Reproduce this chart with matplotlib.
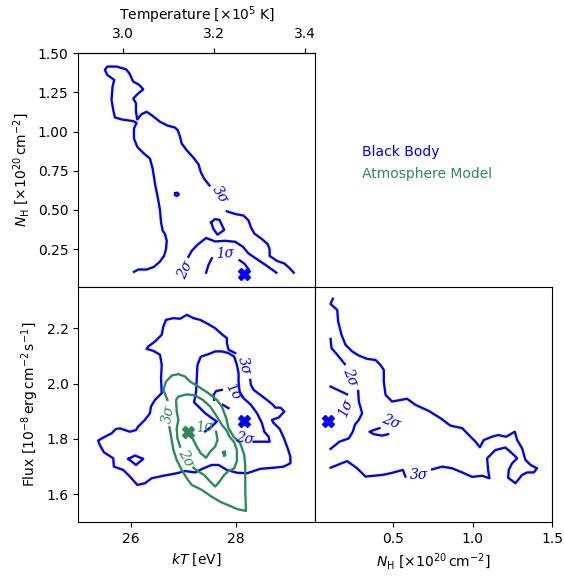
import numpy as np
import matplotlib.pyplot as plt

BLUE = '#0000ff'
GREEN = '#2e8b57'

# ---- traced contour lines (data units) ----
# top-left: kT [eV] vs NH [1e20 cm^-2], black body
bb_kt_nh_3s_a = [(26.058, 0.105), (26.140, 0.120), (26.299, 0.120), (26.438, 0.137), (26.553, 0.171),
                 (26.629, 0.207), (26.667, 0.250), (26.680, 0.303), (26.648, 0.346), (26.604, 0.367),
                 (26.572, 0.421), (26.553, 0.496), (26.521, 0.560), (26.458, 0.667), (26.413, 0.763),
                 (26.362, 0.827), (26.235, 0.863), (26.121, 0.902), (26.058, 0.955), (26.058, 1.019),
                 (26.108, 1.055), (26.045, 1.066), (25.823, 1.077), (25.696, 1.090), (25.664, 1.137),
                 (25.632, 1.201), (25.651, 1.286), (25.683, 1.329), (25.550, 1.361), (25.505, 1.393),
                 (25.550, 1.414), (25.727, 1.414), (25.905, 1.397), (25.969, 1.372), (26.013, 1.340),
                 (26.045, 1.318), (26.159, 1.297), (26.235, 1.269), (26.140, 1.243), (26.045, 1.211),
                 (26.096, 1.179), (26.096, 1.126), (26.121, 1.077), (26.204, 1.111), (26.299, 1.126),
                 (26.394, 1.104), (26.553, 1.062), (26.693, 1.038), (26.839, 1.025), (26.889, 1.008),
                 (26.934, 0.966), (26.965, 0.923), (27.061, 0.880), (27.188, 0.833), (27.283, 0.791),
                 (27.327, 0.741), (27.391, 0.699), (27.492, 0.656)]
bb_kt_nh_3s_b = [(27.823, 0.491), (27.981, 0.474), (28.140, 0.464), (28.235, 0.432), (28.280, 0.389),
                 (28.343, 0.350), (28.489, 0.314), (28.597, 0.282), (28.635, 0.250), (28.635, 0.207),
                 (28.775, 0.175), (28.915, 0.158), (29.016, 0.128), (29.092, 0.100)]
bb_kt_nh_2s = [(27.092, 0.201), (27.156, 0.239), (27.264, 0.278), (27.429, 0.321), (27.600, 0.299),
               (27.791, 0.303), (27.981, 0.297), (28.127, 0.265), (28.235, 0.222), (28.394, 0.186),
               (28.584, 0.143), (28.762, 0.100)]
bb_kt_nh_island = [(27.524, 0.421), (27.600, 0.442), (27.683, 0.436), (27.772, 0.372), (27.645, 0.342),
                   (27.569, 0.378), (27.524, 0.421)]
bb_kt_nh_dot = [(26.84, 0.607), (26.885, 0.610), (26.91, 0.598), (26.87, 0.588), (26.835, 0.596), (26.84, 0.607)]
bb_kt_nh_1s_a = [(27.429, 0.100), (27.473, 0.149), (27.537, 0.192)]
bb_kt_nh_1s_b = [(28.064, 0.179), (28.153, 0.158), (28.235, 0.122)]

# bottom-left: kT [eV] vs Flux, black body
bb_kt_fl_3s = [(27.981, 2.110), (27.854, 2.122), (27.823, 2.146), (27.823, 2.164), (27.727, 2.178),
               (27.600, 2.200), (27.473, 2.214), (27.315, 2.230), (27.188, 2.236), (27.061, 2.248),
               (26.934, 2.234), (26.807, 2.236), (26.667, 2.230), (26.616, 2.206), (26.585, 2.176),
               (26.458, 2.152), (26.331, 2.134), (26.299, 2.125), (26.426, 2.118), (26.553, 2.104),
               (26.585, 2.067), (26.572, 2.019), (26.585, 1.965), (26.458, 1.941), (26.381, 1.917),
               (26.362, 1.893), (26.267, 1.869), (26.140, 1.845), (26.096, 1.832), (25.981, 1.826),
               (25.791, 1.838), (25.715, 1.836), (25.632, 1.820), (25.505, 1.808), (25.378, 1.794),
               (25.410, 1.778), (25.486, 1.752), (25.664, 1.730), (25.677, 1.700), (25.854, 1.688),
               (25.981, 1.664), (26.121, 1.634), (26.267, 1.640), (26.394, 1.658), (26.616, 1.667),
               (26.870, 1.676), (27.029, 1.684), (27.219, 1.679), (27.378, 1.694), (27.537, 1.706),
               (27.664, 1.706), (27.823, 1.688), (28.013, 1.678), (28.204, 1.676), (28.458, 1.692),
               (28.712, 1.696), (28.902, 1.700), (29.029, 1.712), (29.029, 1.736), (28.978, 1.766),
               (28.902, 1.805), (28.826, 1.836), (28.699, 1.860), (28.680, 1.869), (28.807, 1.877),
               (28.915, 1.899), (28.839, 1.913), (28.743, 1.913), (28.699, 1.923), (28.584, 1.941),
               (28.458, 1.959), (28.331, 1.977), (28.280, 1.995), (28.267, 2.013)]
bb_kt_fl_diamond = [(25.950, 1.728), (26.077, 1.740), (26.235, 1.728), (26.096, 1.706), (25.950, 1.728)]
bb_kt_fl_2s = [(28.331, 1.790), (28.508, 1.790), (28.635, 1.790), (28.616, 1.808), (28.534, 1.826),
               (28.489, 1.857), (28.394, 1.893), (28.280, 1.923), (28.140, 1.947), (28.064, 1.971),
               (28.045, 2.007), (28.045, 2.037), (28.013, 2.067), (27.962, 2.097), (27.854, 2.110),
               (27.727, 2.116), (27.600, 2.116), (27.473, 2.106), (27.327, 2.097), (27.264, 2.067),
               (27.251, 2.019), (27.238, 1.971), (27.200, 1.932), (27.283, 1.917), (27.410, 1.893),
               (27.537, 1.875), (27.632, 1.863), (27.537, 1.845), (27.410, 1.827)]
bb_kt_fl_1s_a = [(27.727, 1.977), (27.619, 1.973), (27.569, 1.959), (27.581, 1.941)]
bb_kt_fl_1s_b = [(27.746, 1.923), (27.854, 1.911)]

# bottom-left: kT [eV] vs Flux, atmosphere model
at_kt_fl_3s = [(26.693, 1.941), (26.616, 1.977), (26.667, 2.007), (26.775, 2.029), (26.902, 2.034),
               (27.029, 2.025), (27.124, 2.007), (27.283, 1.989), (27.473, 1.965), (27.632, 1.941),
               (27.727, 1.917), (27.810, 1.875), (27.854, 1.839), (27.950, 1.808), (28.077, 1.784),
               (28.153, 1.742), (28.172, 1.700), (28.172, 1.658), (28.172, 1.616), (28.185, 1.540),
               (28.013, 1.547), (27.886, 1.558), (27.696, 1.573), (27.505, 1.595), (27.346, 1.616),
               (27.156, 1.634), (27.061, 1.658), (26.966, 1.688), (26.870, 1.724), (26.807, 1.760),
               (26.775, 1.796), (26.731, 1.842)]
at_kt_fl_2s = [(27.188, 1.696), (27.283, 1.682), (27.391, 1.670), (27.505, 1.646), (27.600, 1.628),
               (27.683, 1.646), (27.772, 1.670), (27.854, 1.684), (27.962, 1.694), (28.013, 1.720),
               (28.013, 1.760), (27.962, 1.788), (27.873, 1.808), (27.823, 1.829), (27.727, 1.851),
               (27.632, 1.881), (27.505, 1.917), (27.365, 1.941), (27.219, 1.957), (27.061, 1.961),
               (26.902, 1.953), (26.858, 1.941), (26.870, 1.899), (26.902, 1.869), (26.870, 1.838),
               (26.883, 1.802), (26.934, 1.772)]
at_kt_fl_1s = [(27.619, 1.826), (27.645, 1.796), (27.600, 1.772), (27.505, 1.754), (27.429, 1.732),
               (27.327, 1.748), (27.251, 1.772), (27.188, 1.796), (27.137, 1.812)]
at_kt_fl_dot = [(27.755, 1.752), (27.785, 1.755), (27.792, 1.742), (27.770, 1.738), (27.755, 1.752)]

# bottom-right: NH vs Flux, black body
bb_nh_fl_3s_a = [(0.120, 2.306), (0.106, 2.287), (0.148, 2.266), (0.154, 2.224), (0.175, 2.176),
                 (0.200, 2.140), (0.242, 2.116), (0.284, 2.101), (0.336, 2.089), (0.389, 2.085),
                 (0.420, 2.067), (0.441, 2.049), (0.441, 2.007), (0.452, 1.959), (0.493, 1.935),
                 (0.588, 1.945), (0.640, 1.923), (0.724, 1.901), (0.797, 1.875), (0.860, 1.848),
                 (0.934, 1.839), (0.976, 1.814), (1.018, 1.790), (1.045, 1.770), (1.070, 1.796),
                 (1.122, 1.808), (1.160, 1.814), (1.211, 1.808), (1.265, 1.826), (1.280, 1.796),
                 (1.311, 1.766), (1.332, 1.724), (1.364, 1.706), (1.405, 1.694), (1.385, 1.679),
                 (1.343, 1.679), (1.311, 1.670), (1.269, 1.640), (1.223, 1.660), (1.227, 1.688),
                 (1.248, 1.712), (1.280, 1.730), (1.248, 1.748), (1.206, 1.769), (1.143, 1.760),
                 (1.091, 1.730), (1.097, 1.688), (1.106, 1.658), (1.060, 1.667), (0.997, 1.663),
                 (0.934, 1.679), (0.871, 1.694), (0.808, 1.700), (0.745, 1.690)]
bb_nh_fl_3s_b = [(0.577, 1.664), (0.561, 1.688), (0.483, 1.676), (0.431, 1.670), (0.326, 1.664),
                 (0.273, 1.694), (0.210, 1.720), (0.106, 1.696)]
bb_nh_fl_2s_a = [(0.106, 2.161), (0.112, 2.128), (0.148, 2.104), (0.196, 2.070)]
bb_nh_fl_2s_b = [(0.280, 1.973), (0.284, 1.935), (0.305, 1.893), (0.284, 1.869), (0.259, 1.851),
                 (0.246, 1.826), (0.221, 1.802), (0.162, 1.790), (0.106, 1.764)]
bb_nh_fl_2s_c = [(0.414, 1.839), (0.378, 1.832), (0.351, 1.826), (0.378, 1.817), (0.431, 1.812),
                 (0.468, 1.817)]
bb_nh_fl_1s = [(0.106, 1.989), (0.210, 1.961)]

# best fits
bb_best = {'kT': 28.15, 'NH': 0.092, 'flux': 1.865}
at_best = {'kT': 27.09, 'flux': 1.825}

# contour labels: (x, y, text, rotation)
labels_kt_nh = [(27.70, 0.600, '3σ', -58), (27.03, 0.118, '2σ', 65), (27.79, 0.222, '1σ', 3)]
labels_kt_fl_bb = [(28.14, 2.065, '3σ', -75), (27.95, 1.969, '1σ', -60), (28.17, 1.802, '2σ', -10)]
labels_kt_fl_at = [(26.71, 1.889, '3σ', 80), (27.05, 1.732, '2σ', -62), (27.41, 1.841, '1σ', 5)]
labels_nh_fl = [(0.231, 2.022, '2σ', -68), (0.200, 1.913, '1σ', 68), (0.489, 1.863, '2σ', -22),
                (0.661, 1.670, '3σ', 0)]

KT_LIM = (25.0, 29.5)
NH_LIM = (0.01, 1.5)
FL_LIM = (1.5, 2.35)
EV_TO_1E5K = 11604.5 / 1e5


def draw(ax, lines, color):
    for ln in lines:
        xy = np.array(ln)
        ax.plot(xy[:, 0], xy[:, 1], color=color, lw=1.7, solid_joinstyle='round')


def put_labels(ax, labels, color):
    for x, y, s, rot in labels:
        ax.text(x, y, s, color=color, fontsize=10, fontstyle='italic', family='DejaVu Serif',
                rotation=rot, rotation_mode='anchor', ha='center', va='center')


fig = plt.figure(figsize=(5.64, 5.77), dpi=100)
ax_nh = fig.add_axes([0.1388, 0.503, 0.420, 0.405])
ax_fl = fig.add_axes([0.1388, 0.0953, 0.420, 0.408])
ax_fn = fig.add_axes([0.559, 0.0953, 0.420, 0.408])

# top-left
draw(ax_nh, [bb_kt_nh_3s_a, bb_kt_nh_3s_b, bb_kt_nh_2s, bb_kt_nh_island, bb_kt_nh_dot,
             bb_kt_nh_1s_a, bb_kt_nh_1s_b], BLUE)
put_labels(ax_nh, labels_kt_nh, BLUE)
ax_nh.plot(bb_best['kT'], bb_best['NH'], 'X', color=BLUE, ms=9)
ax_nh.set_xlim(KT_LIM)
ax_nh.set_ylim(NH_LIM)
ax_nh.set_yticks([0.25, 0.5, 0.75, 1.0, 1.25, 1.5])
ax_nh.tick_params(bottom=False, labelbottom=False)
ax_nh.set_ylabel(r'$N_\mathrm{H}$ [$\times 10^{20}\,\mathrm{cm}^{-2}$]')
sec = ax_nh.secondary_xaxis('top', functions=(lambda k: k * EV_TO_1E5K, lambda t: t / EV_TO_1E5K))
sec.set_xticks([3.0, 3.2, 3.4])
sec.tick_params(pad=5)
sec.set_xlabel(r'Temperature [$\times 10^5$ K]', labelpad=5)

# bottom-left
draw(ax_fl, [bb_kt_fl_3s, bb_kt_fl_diamond, bb_kt_fl_2s, bb_kt_fl_1s_a, bb_kt_fl_1s_b], BLUE)
draw(ax_fl, [at_kt_fl_3s, at_kt_fl_2s, at_kt_fl_1s, at_kt_fl_dot], GREEN)
put_labels(ax_fl, labels_kt_fl_bb, BLUE)
put_labels(ax_fl, labels_kt_fl_at, GREEN)
ax_fl.plot(bb_best['kT'], bb_best['flux'], 'X', color=BLUE, ms=9)
ax_fl.plot(at_best['kT'], at_best['flux'], 'X', color=GREEN, ms=9)
ax_fl.set_xlim(KT_LIM)
ax_fl.set_ylim(FL_LIM)
ax_fl.set_xticks([26, 28])
ax_fl.set_yticks([1.6, 1.8, 2.0, 2.2])
ax_fl.set_xlabel(r'$kT$ [eV]')
ax_fl.set_ylabel(r'Flux [$10^{-8}\,\mathrm{erg\,cm^{-2}\,s^{-1}}$]')

# bottom-right
draw(ax_fn, [bb_nh_fl_3s_a, bb_nh_fl_3s_b, bb_nh_fl_2s_a, bb_nh_fl_2s_b, bb_nh_fl_2s_c, bb_nh_fl_1s], BLUE)
put_labels(ax_fn, labels_nh_fl, BLUE)
ax_fn.plot(bb_best['NH'], bb_best['flux'], 'X', color=BLUE, ms=9)
ax_fn.set_xlim(NH_LIM)
ax_fn.set_ylim(FL_LIM)
ax_fn.set_xticks([0.5, 1.0, 1.5])
ax_fn.tick_params(left=False, labelleft=False)
ax_fn.set_xlabel(r'$N_\mathrm{H}$ [$\times 10^{20}\,\mathrm{cm}^{-2}$]')

fig.text(0.642, 0.737, 'Black Body', color=BLUE, fontsize=10, va='center')
fig.text(0.642, 0.698, 'Atmosphere Model', color=GREEN, fontsize=10, va='center')

fig.savefig('out.png', dpi=100)
